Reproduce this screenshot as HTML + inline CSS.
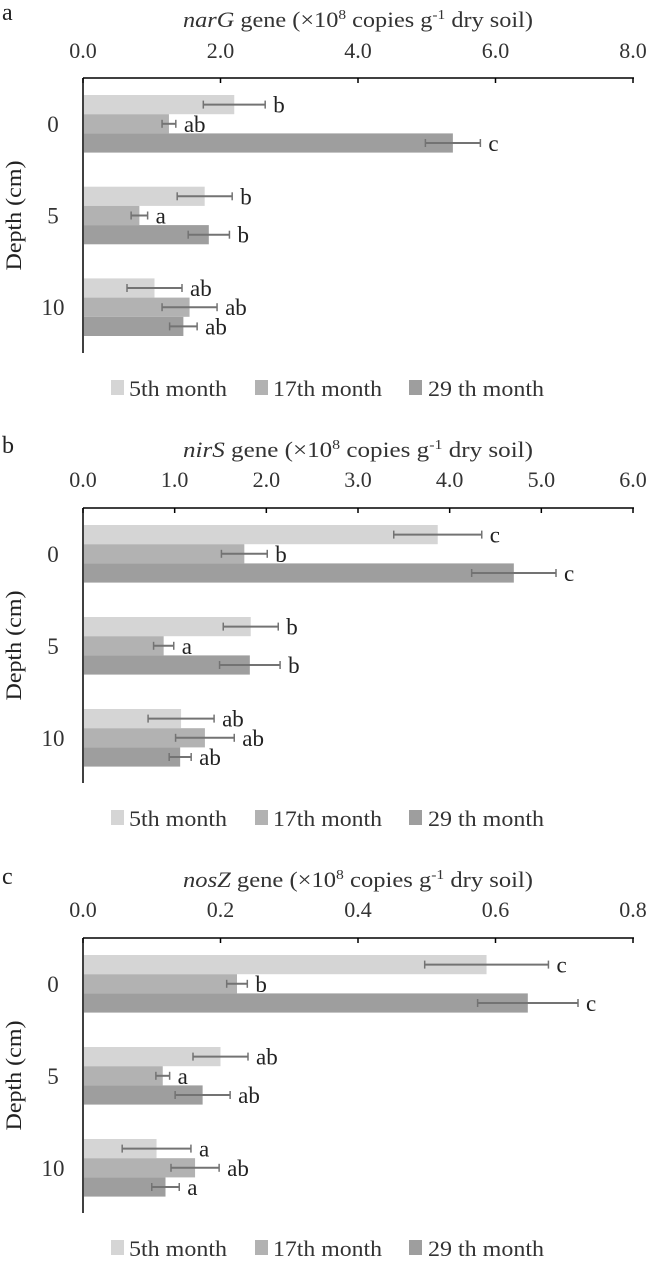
<!DOCTYPE html>
<html><head><meta charset="utf-8"><style>
html,body{margin:0;padding:0;background:#fff;}
svg{display:block;font-family:"Liberation Serif",serif;}
</style></head><body>
<svg id="fig" width="646" height="1263" viewBox="0 0 646 1263"></svg>
<script>
const seriesNames = ["5th month","17th month","29 th month"];
const depthLabels = ["0","5","10"];
// panel a: narG
const aTicks = ["0.0","2.0","4.0","6.0","8.0"];
const aMonth5 = [2.2,1.77,1.04];
const aMonth17 = [1.25,0.82,1.55];
const aMonth29 = [5.38,1.83,1.46];
const aErr5 = [0.45,0.4,0.4];
const aErr17 = [0.1,0.12,0.4];
const aErr29 = [0.4,0.3,0.2];
const aLetters5 = ["b","b","ab"];
const aLetters17 = ["ab","a","ab"];
const aLetters29 = ["c","b","ab"];
// panel b: nirS
const bTicks = ["0.0","1.0","2.0","3.0","4.0","5.0","6.0"];
const bMonth5 = [3.87,1.83,1.07];
const bMonth17 = [1.76,0.88,1.33];
const bMonth29 = [4.7,1.82,1.06];
const bErr5 = [0.48,0.3,0.36];
const bErr17 = [0.25,0.11,0.32];
const bErr29 = [0.46,0.33,0.12];
const bLetters5 = ["c","b","ab"];
const bLetters17 = ["b","a","ab"];
const bLetters29 = ["c","b","ab"];
// panel c: nosZ
const cTicks = ["0.0","0.2","0.4","0.6","0.8"];
const cMonth5 = [0.587,0.2,0.107];
const cMonth17 = [0.224,0.116,0.163];
const cMonth29 = [0.647,0.174,0.12];
const cErr5 = [0.09,0.04,0.05];
const cErr17 = [0.015,0.01,0.035];
const cErr29 = [0.073,0.04,0.02];
const cLetters5 = ["c","ab","a"];
const cLetters17 = ["b","a","ab"];
const cLetters29 = ["c","ab","a"];

const NS="http://www.w3.org/2000/svg";
const svg=document.getElementById('fig');
const colors=["#d5d5d5","#b2b2b2","#9e9e9e"];
function mk(tag,attrs,parent){const e=document.createElementNS(NS,tag);for(const k in attrs)e.setAttribute(k,attrs[k]);(parent||svg).appendChild(e);return e;}

function panel(cfg){
  const g=mk('g',{});
  
  
  const x0=83,x1=633,max=parseFloat(cfg.ticks[cfg.ticks.length-1]);
  const xs=v=>x0+(v/max)*(x1-x0);
  let t=mk('text',{x:2,y:cfg.letterY,'font-size':24,fill:'#222'},g);t.textContent=cfg.id;
  
  t=mk('text',{x:183,y:cfg.titleY,'font-size':22,fill:'#333',textLength:350,lengthAdjust:'spacingAndGlyphs'},g);
  
  t.innerHTML='<tspan font-style="italic">'+cfg.gene+'</tspan> gene (×10<tspan font-size="14" dy="-8">8</tspan><tspan dy="8"> copies g</tspan><tspan font-size="14" dy="-8">-1</tspan><tspan dy="8"> dry soil)</tspan>';
  cfg.ticks.forEach(tk=>{
    const x=xs(parseFloat(tk));
    const tt=mk('text',{x:x,y:cfg.tickY,'font-size':22,fill:'#333','text-anchor':'middle'},g);tt.textContent=tk;
    
    mk('line',{x1:x,x2:x,y1:cfg.axisY,y2:cfg.axisY+5,stroke:'#000','stroke-width':1.5},g);
  });
  const ax=mk('line',{x1:x0,x2:x1+1,y1:cfg.axisY,y2:cfg.axisY,stroke:'#000','stroke-width':1.5},g);
  
  const ay=mk('line',{x1:x0,x2:x0,y1:cfg.axisY,y2:cfg.axisEnd,stroke:'#000','stroke-width':1.5},g);
  
  const bh=19.2;
  const vals=[cfg.v5,cfg.v17,cfg.v29],errs=[cfg.e5,cfg.e17,cfg.e29],lets=[cfg.l5,cfg.l17,cfg.l29];
  depthLabels.forEach((d,i)=>{
    const gy=cfg.g0+i*cfg.gap;
    const dl=mk('text',{x:53,y:gy+bh*1.5+8,'font-size':23,fill:'#333','text-anchor':'middle'},g);dl.textContent=d;
    
    for(let s=0;s<3;s++){
      const v=vals[s][i],e=errs[s][i],y=gy+s*bh;
      const r=mk('rect',{x:x0+1,y:y,width:xs(v)-x0-1,height:bh,fill:colors[s]},g);
      
      const cy=y+bh/2,ea=xs(v-e),eb=xs(v+e);
      mk('line',{x1:ea,x2:eb,y1:cy,y2:cy,stroke:'#737373','stroke-width':2},g);
      mk('line',{x1:ea,x2:ea,y1:cy-4,y2:cy+4,stroke:'#737373','stroke-width':1.5},g);
      mk('line',{x1:eb,x2:eb,y1:cy-4,y2:cy+4,stroke:'#737373','stroke-width':1.5},g);
      const lt=mk('text',{x:Math.max(eb,xs(v))+8,y:cy+8,'font-size':23,fill:'#222'},g);lt.textContent=lets[s][i];
      
    }
  });
  const yt=mk('text',{x:0,y:0,'font-size':22,fill:'#222','text-anchor':'middle',textLength:110,lengthAdjust:'spacingAndGlyphs',transform:'translate(21,'+((cfg.axisY+cfg.axisEnd)/2)+') rotate(-90)'},g);
  yt.textContent='Depth (cm)';
  const lx=[111,255,409],tx=[129,273,428],tw=[98,109,116];
  seriesNames.forEach((n,s)=>{
    const le=mk('g',{},g);
    mk('rect',{x:lx[s],y:cfg.legY-16,width:13,height:15,fill:colors[s]},le);
    const lt=mk('text',{x:tx[s],y:cfg.legY,'font-size':22,fill:'#333',textLength:tw[s],lengthAdjust:'spacingAndGlyphs'},le);lt.textContent=n;
  });
}
panel({id:'a',gene:'narG',ticks:aTicks,v5:aMonth5,v17:aMonth17,v29:aMonth29,e5:aErr5,e17:aErr17,e29:aErr29,l5:aLetters5,l17:aLetters17,l29:aLetters29,
 letterY:20,titleY:27,tickY:58,axisY:78,axisEnd:353,g0:95,gap:91.7,legY:396});
panel({id:'b',gene:'nirS',ticks:bTicks,v5:bMonth5,v17:bMonth17,v29:bMonth29,e5:bErr5,e17:bErr17,e29:bErr29,l5:bLetters5,l17:bLetters17,l29:bLetters29,
 letterY:453,titleY:457,tickY:487,axisY:508,axisEnd:783,g0:525,gap:92,legY:826});
panel({id:'c',gene:'nosZ',ticks:cTicks,v5:cMonth5,v17:cMonth17,v29:cMonth29,e5:cErr5,e17:cErr17,e29:cErr29,l5:cLetters5,l17:cLetters17,l29:cLetters29,
 letterY:884,titleY:887,tickY:917,axisY:938,axisEnd:1213,g0:955,gap:92,legY:1256});
</script>
</body></html>
